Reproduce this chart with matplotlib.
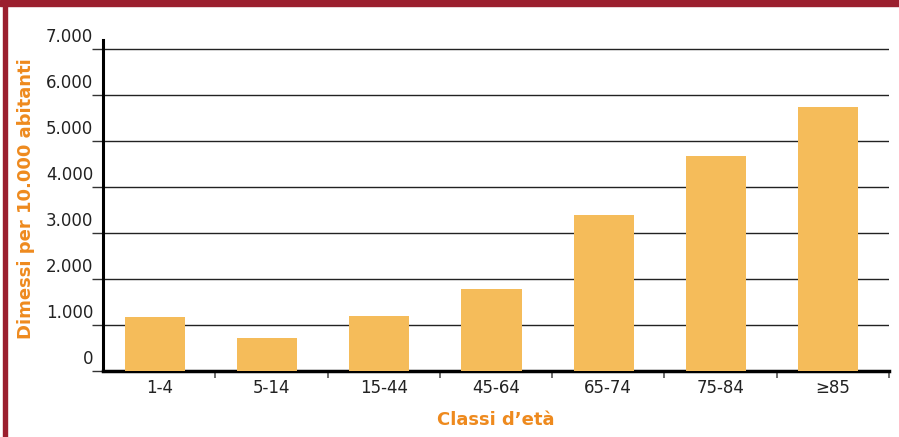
import matplotlib.pyplot as plt
import matplotlib.transforms as mtransforms
from matplotlib.patches import Rectangle

# Dati
classi = ["1-4", "5-14", "15-44", "45-64", "65-74", "75-84", "≥85"]
dimessi = [1170, 720, 1200, 1780, 3390, 4670, 5740]
yticks = [0, 1000, 2000, 3000, 4000, 5000, 6000, 7000]
ytick_labels = ["0", "1.000", "2.000", "3.000", "4.000", "5.000", "6.000", "7.000"]

arancio = "#EE8A1E"
barra = "#F5BC5A"
rosso = "#9B1F2E"

plt.rcParams['font.family'] = ['DejaVu Sans']

fig = plt.figure(figsize=(8.99, 4.37), dpi=100)
ax = fig.add_axes([103 / 899, 1 - 371 / 437, (889 - 103) / 899, (371 - 40) / 437])

# Cornice rossa (alto e sinistra)
fig.patches.append(Rectangle((0, 1 - 6 / 437), 1, 6 / 437, transform=fig.transFigure,
                             color=rosso, zorder=0))
fig.patches.append(Rectangle((3 / 899, 0), 4 / 899, 1, transform=fig.transFigure,
                             color=rosso, zorder=0))

x = list(range(len(classi)))
# le barre sono leggermente spostate a sinistra rispetto al centro della classe
ax.bar([i - 0.04 for i in x], dimessi, width=0.535, color=barra, zorder=3)

ax.set_xlim(-0.5, len(classi) - 0.5)
ax.set_ylim(0, 7200)

# Griglia orizzontale
for v in yticks[1:]:
    ax.axhline(v, color="#222222", lw=1.0, zorder=1)

ax.set_yticks(yticks)
ax.set_yticklabels(ytick_labels, fontsize=12, va="bottom")
ax.tick_params(axis="y", length=8, width=1, color="#333333", pad=-1)

# Tick x sui confini delle classi, etichette al centro
ax.set_xticks([i + 0.5 for i in x])
ax.set_xticklabels([])
ax.tick_params(axis="x", length=5, width=1.2, color="#555555", direction="out")
ax.set_xticks(x, minor=True)
ax.set_xticklabels(classi, minor=True, fontsize=12, color="#222222")
ax.tick_params(axis="x", which="minor", length=0, pad=6)

for s in ["top", "right"]:
    ax.spines[s].set_visible(False)
ax.spines["left"].set_linewidth(2.2)
ax.spines["bottom"].set_linewidth(2.5)

ax.set_ylabel("Dimessi per 10.000 abitanti", color=arancio, fontsize=13,
              fontweight="bold")
ax.yaxis.set_label_coords(-0.087, 0.52)
ax.set_xlabel("Classi d\u2019età", color=arancio, fontsize=13, fontweight="bold",
              labelpad=10)

# Etichette y sopra le linee
offset = mtransforms.ScaledTranslation(0, 2 / 72, fig.dpi_scale_trans)
for lab in ax.get_yticklabels():
    lab.set_transform(lab.get_transform() + offset)
    lab.set_color("#222222")

fig.savefig("out.png", dpi=100)
